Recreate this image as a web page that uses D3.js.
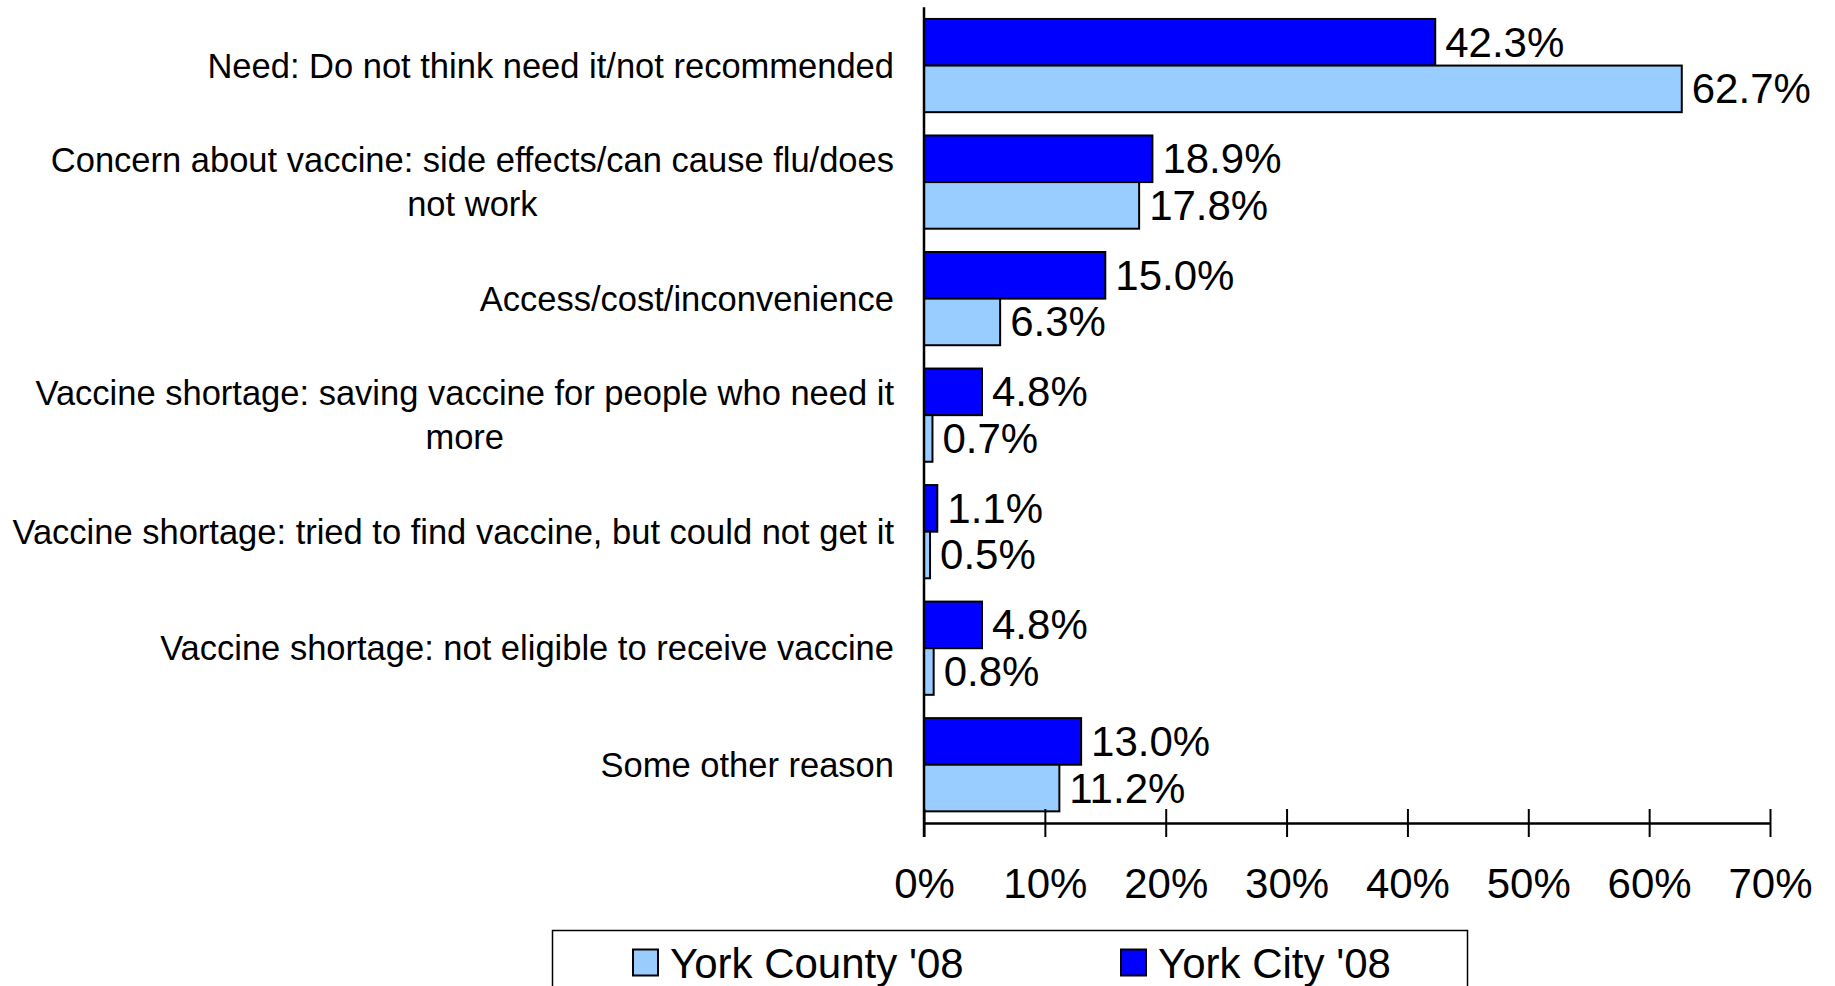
<!DOCTYPE html>
<html>
<head>
<meta charset="utf-8">
<script src="https://cdn.jsdelivr.net/npm/d3@7"></script>
<style>
  html, body { margin: 0; padding: 0; background: #fff; }
  svg { display: block; font-family: "Liberation Sans", Arial, sans-serif; }
</style>
</head>
<body>
<svg id="chart" width="1835" height="986"></svg>
<script>
// ---- data ----
const categories = [
  ["Need: Do not think need it/not recommended"],
  ["Concern about vaccine: side effects/can cause flu/does", "not work"],
  ["Access/cost/inconvenience"],
  ["Vaccine shortage: saving vaccine for people who need it", "more"],
  ["Vaccine shortage: tried to find vaccine, but could not get it"],
  ["Vaccine shortage: not eligible to receive vaccine"],
  ["Some other reason"]
];
const seriesNames = ["York City '08", "York County '08"];
const yorkCity   = [42.3, 18.9, 15.0, 4.8, 1.1, 4.8, 13.0];
const yorkCounty = [62.7, 17.8, 6.3, 0.7, 0.5, 0.8, 11.2];
const xTicks = [0, 10, 20, 30, 40, 50, 60, 70];
const legendOrder = ["York County '08", "York City '08"];

// ---- layout ----
const colors = { "York City '08": "#0000FF", "York County '08": "#99CCFF" };
const svg = d3.select("#chart");
const x0 = 924, x1 = 1770, yTop = 7.3, yBot = 823;

const x = d3.scaleLinear().domain([0, 70]).range([x0, x1]);
const catKeys = categories.map((c, i) => i);
const y = d3.scaleBand().domain(catKeys).range([yTop, yBot]).paddingInner(0.2).paddingOuter(0.1);
const ySub = d3.scaleBand().domain(seriesNames).range([0, y.bandwidth()]);

const rows = catKeys.map(i => ({ i, values: [
  { s: seriesNames[0], v: yorkCity[i] },
  { s: seriesNames[1], v: yorkCounty[i] }
]}));

// bars
const g = svg.append("g");
const groups = g.selectAll("g.cat").data(rows).join("g")
  .attr("class", "cat")
  .attr("transform", d => `translate(0,${y(d.i)})`);

groups.selectAll("rect").data(d => d.values).join("rect")
  .attr("x", x(0))
  .attr("y", d => ySub(d.s))
  .attr("width", d => x(d.v) - x(0))
  .attr("height", ySub.bandwidth())
  .attr("fill", d => colors[d.s])
  .attr("stroke", "#000")
  .attr("stroke-width", 2);

groups.selectAll("text.val").data(d => d.values).join("text")
  .attr("class", "val")
  .attr("x", d => x(d.v) + 10)
  .attr("y", d => ySub(d.s) + ySub.bandwidth() / 2)
  .attr("dominant-baseline", "central")
  .attr("font-size", 42)
  .attr("fill", "#000")
  .text(d => d.v.toFixed(1) + "%");

// category labels
const labelRight = 894, lineH = 44.5, catFont = 34.5;
catKeys.forEach(i => {
  const lines = categories[i];
  const cy = y(i) + y.bandwidth() / 2;
  const t = svg.append("text")
    .attr("font-size", catFont)
    .attr("fill", "#000")
    .attr("dominant-baseline", "central");
  const first = t.append("tspan").text(lines[0]);
  const w = first.node().getComputedTextLength();
  const cx = labelRight - w / 2;
  t.attr("text-anchor", "middle");
  lines.forEach((ln, k) => {
    const ts = k === 0 ? first : t.append("tspan").text(ln);
    ts.attr("x", cx).attr("y", cy + (k - (lines.length - 1) / 2) * lineH);
  });
});

// x axis
const axis = d3.axisBottom(x).tickValues(xTicks).tickFormat(d => d + "%").tickSize(14).tickSizeOuter(0);
const ax = svg.append("g").attr("transform", `translate(0,${yBot})`).call(axis);
ax.select(".domain").attr("stroke", "#000").attr("stroke-width", 2.5);
ax.selectAll(".tick line").attr("y1", -14).attr("y2", 14).attr("stroke", "#000").attr("stroke-width", 2);
ax.selectAll(".tick text")
  .attr("y", 75).attr("dy", 0)
  .attr("font-size", 42)
  .attr("font-family", "Liberation Sans, Arial, sans-serif")
  .attr("fill", "#000");

// y axis line
svg.append("line")
  .attr("x1", x0).attr("x2", x0)
  .attr("y1", yTop).attr("y2", yBot + 14)
  .attr("stroke", "#000").attr("stroke-width", 2.5);

// legend
const lg = svg.append("g");
lg.append("rect")
  .attr("x", 552.5).attr("y", 930.5).attr("width", 915).attr("height", 80)
  .attr("fill", "#fff").attr("stroke", "#000").attr("stroke-width", 1.5);
const legendPos = [633, 1121];
legendOrder.forEach((name, k) => {
  lg.append("rect")
    .attr("x", legendPos[k]).attr("y", 949.5).attr("width", 25).attr("height", 26)
    .attr("fill", colors[name]).attr("stroke", "#000").attr("stroke-width", 2);
  lg.append("text")
    .attr("x", legendPos[k] + 37).attr("y", 963)
    .attr("dominant-baseline", "central")
    .attr("font-size", 42)
    .attr("fill", "#000")
    .text(name);
});
</script>
</body>
</html>
